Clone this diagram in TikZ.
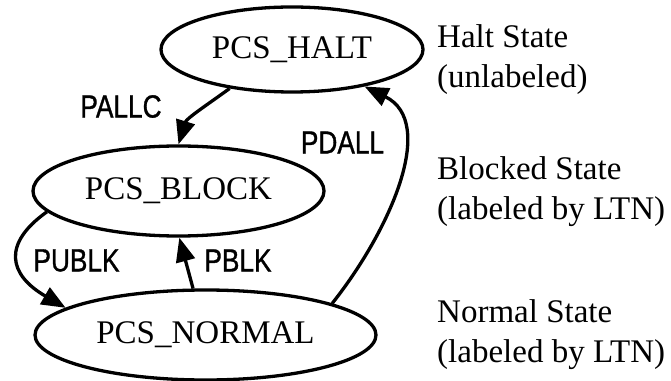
\documentclass[tikz,border=0pt]{standalone}
\usepackage{fontspec}
\setmainfont{Liberation Serif}
\newfontfamily\lblfont[FakeStretch=0.82,FakeBold=1]{Liberation Sans}
\usetikzlibrary{shapes.geometric,arrows.meta}
\begin{document}
\begin{tikzpicture}[x=1pt,y=1pt,
  state/.style={ellipse,draw,line width=3.3pt,inner sep=0pt,font=\fontsize{33}{40}\selectfont},
  desc/.style={anchor=base west,inner sep=0pt,font=\fontsize{33}{40}\selectfont},
  elabel/.style={inner sep=0pt,font=\lblfont\fontsize{32}{38}\selectfont},
  edge/.style={line width=3.3pt,-{Triangle[length=24pt,width=19pt]}}]
\useasboundingbox (0,0) rectangle (671,380);
\node[state,minimum width=262pt,minimum height=85pt] (halt) at (292,330.5) {PCS\_HALT};
\node[state,minimum width=291pt,minimum height=90pt] (block) at (178.5,189) {PCS\_BLOCK};
\node[state,minimum width=341pt,minimum height=90pt] (normal) at (205.5,45) {PCS\_NORMAL};
\node[desc] (d1) at (437,332.7) {Halt State};
\node[desc] (d2) at (437,292.7) {(unlabeled)};
\node[desc] (d3) at (437,200) {Blocked State};
\node[desc] (d4) at (437,160) {(labeled by LTN)};
\node[desc] (d5) at (437,57.3) {Normal State};
\node[desc] (d6) at (437,17.3) {(labeled by LTN)};
\node[elabel] (lpallc) at (121,273.5) {PALLC};
\node[elabel] (lpdall) at (342.5,237.5) {PDALL};
\node[elabel] (lpublk) at (76.5,119.5) {PUBLK};
\node[elabel] (lpblk) at (238,119.5) {PBLK};
\draw[edge] (halt.212) .. controls +(-22,-16) and +(8,26) .. (block.90);
\draw[edge] (normal.14) .. controls +(58,73) and +(73,-36) .. (halt.333);
\draw[edge] (block.189) .. controls +(-45,-32) and +(-57,33) .. (normal.169);
\draw[edge] (normal.105) -- (block.271);
\end{tikzpicture}
\end{document}
